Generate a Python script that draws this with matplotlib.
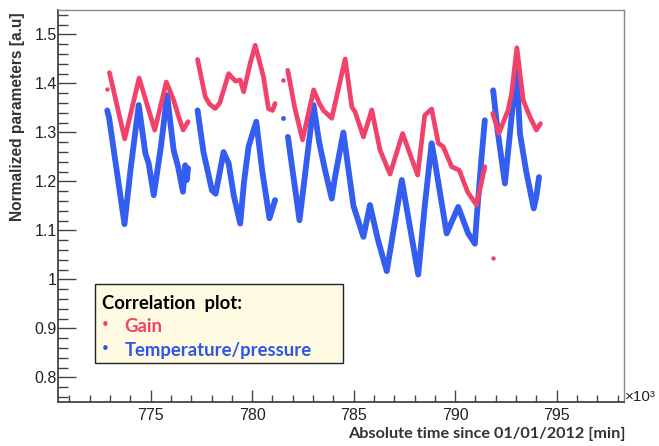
import matplotlib
matplotlib.use("Agg")
import matplotlib.pyplot as plt
from matplotlib.patches import Rectangle
from matplotlib.ticker import MultipleLocator

# time in units of 10^3 min since 01/01/2012
gain_x = [
    [772.97, 773.72, 774.43, 775.20, 775.77, 776.13, 776.38, 776.60, 776.84],
    [777.31, 777.69, 777.90, 778.18, 778.40, 778.84, 779.17, 779.41, 779.58,
     779.90, 780.15, 780.56, 780.80, 781.00, 781.13],
    [781.75, 782.10, 782.48, 783.03, 783.30, 783.51, 783.92, 784.58, 784.91,
     785.07, 785.48, 785.89, 786.30, 786.79, 787.41, 788.15, 788.50, 788.84,
     789.17, 789.41, 789.83, 790.20, 790.62, 791.05, 791.46],
    [791.85, 792.15, 792.61, 792.78, 793.04, 793.35, 793.68, 794.00, 794.20],
]
gain_y = [
    [1.422, 1.287, 1.411, 1.305, 1.403, 1.366, 1.332, 1.305, 1.322],
    [1.449, 1.373, 1.358, 1.349, 1.360, 1.420, 1.405, 1.407, 1.383,
     1.441, 1.478, 1.413, 1.349, 1.345, 1.359],
    [1.427, 1.350, 1.285, 1.387, 1.360, 1.345, 1.329, 1.450, 1.352,
     1.342, 1.291, 1.346, 1.264, 1.215, 1.298, 1.213, 1.335, 1.348,
     1.278, 1.271, 1.230, 1.223, 1.178, 1.152, 1.230],
    [1.339, 1.298, 1.346, 1.380, 1.473, 1.366, 1.332, 1.305, 1.318],
]
gain_dots_x = [772.87, 781.52, 791.84]
gain_dots_y = [1.388, 1.408, 1.043]

tp_x = [
    [772.86, 772.95, 773.30, 773.71, 774.00, 774.41, 774.74, 774.90, 775.15,
     775.50, 775.81, 776.13, 776.35, 776.59, 776.70, 776.78, 776.84],
    [777.31, 777.60, 778.02, 778.20, 778.59, 778.84, 779.10, 779.41, 779.60,
     779.82, 780.20, 780.50, 780.85, 781.13],
    [781.76, 782.33, 783.02, 783.30, 783.59, 783.92, 784.08, 784.49, 784.99,
     785.48, 785.80, 786.20, 786.63, 787.00, 787.37, 787.80, 788.18, 788.50,
     788.84, 788.99, 789.58, 790.15, 790.64, 790.97, 791.05, 791.30, 791.46],
    [791.87, 792.10, 792.45, 792.75, 793.02, 793.19, 793.50, 793.87, 794.00,
     794.13],
]
tp_y = [
    [1.345, 1.330, 1.230, 1.113, 1.222, 1.356, 1.257, 1.237, 1.172,
     1.270, 1.376, 1.264, 1.230, 1.179, 1.233, 1.203, 1.227],
    [1.345, 1.260, 1.182, 1.175, 1.260, 1.237, 1.170, 1.114, 1.200,
     1.271, 1.322, 1.220, 1.125, 1.162],
    [1.291, 1.121, 1.356, 1.280, 1.223, 1.165, 1.209, 1.300, 1.150,
     1.087, 1.152, 1.080, 1.017, 1.110, 1.203, 1.100, 1.010, 1.150,
     1.278, 1.243, 1.094, 1.148, 1.094, 1.073, 1.121, 1.250, 1.325],
    [1.386, 1.300, 1.196, 1.320, 1.434, 1.298, 1.220, 1.145, 1.170, 1.209],
]
tp_dots_x = [781.52]
tp_dots_y = [1.330]

red = '#f0426a'
blue = '#345ef0'

fig = plt.figure(figsize=(6.59, 4.46), dpi=100)
ax = fig.add_axes([0.0885, 0.0987, 0.8579, 0.8789])

for xs, ys in zip(tp_x, tp_y):
    ax.plot(xs, ys, color=blue, lw=4.2, solid_capstyle='round', solid_joinstyle='round')
ax.plot(tp_dots_x, tp_dots_y, 'o', color=blue, ms=3.5, mec='none')
for xs, ys in zip(gain_x, gain_y):
    ax.plot(xs, ys, color=red, lw=3.4, solid_capstyle='round', solid_joinstyle='round')
ax.plot(gain_dots_x, gain_dots_y, 'o', color=red, ms=3.2, mec='none')

ax.set_xlim(770.45, 798.3)
ax.set_ylim(0.75, 1.55)
ax.xaxis.set_major_locator(MultipleLocator(5))
ax.xaxis.set_minor_locator(MultipleLocator(1))
ax.yaxis.set_major_locator(MultipleLocator(0.1))
ax.yaxis.set_minor_locator(MultipleLocator(0.02))
ax.xaxis.set_major_formatter(matplotlib.ticker.FuncFormatter(lambda v, p: '%d' % round(v)))
ax.yaxis.set_major_formatter(matplotlib.ticker.FuncFormatter(lambda v, p: '%g' % round(v, 2)))

ax.tick_params(axis='both', which='both', direction='in', color='#444', width=1.0,
               labelsize=11.5, labelcolor='#222', top=False, right=False)
ax.tick_params(axis='x', which='major', length=8.6, pad=4)
ax.tick_params(axis='x', which='minor', length=4.8)
ax.tick_params(axis='y', which='major', length=12.7, pad=1)
ax.tick_params(axis='y', which='minor', length=7.2)
for lab in ax.get_xticklabels() + ax.get_yticklabels():
    lab.set_family('Liberation Sans')

for s in ['left', 'bottom']:
    ax.spines[s].set_color('#444')
    ax.spines[s].set_linewidth(1.3)
for s in ['top', 'right']:
    ax.spines[s].set_color('#888')
    ax.spines[s].set_linewidth(1.0)

W, H = 659.0, 446.0
def fx(px):
    return px / W
def fy(py):
    return 1 - py / H

fig.text(fx(625), fy(397), '\u00d710\u00b3', family='Liberation Sans', fontsize=11,
         color='#222', ha='left', va='center')
fig.text(fx(18), fy(12), 'Normalized parameters [a.u]', family='Liberation Sans',
         fontweight='bold', fontsize=11.2, color='#333', rotation=90, ha='center', va='top')
fig.text(fx(626), fy(434), 'Absolute time since 01/01/2012 [min]', family='Lato',
         fontweight='bold', fontsize=11.7, color='#333', ha='right', va='center')

# legend box
fig.patches.append(Rectangle((fx(95), fy(363.3)), (342.7 - 95) / W, (363.3 - 284.3) / H,
                             transform=fig.transFigure, facecolor='#fffbe3',
                             edgecolor='#222', lw=1.0, zorder=5))
fig.text(fx(101.7), fy(309), 'Correlation  plot:', family='Lato', fontweight='bold',
         fontsize=13.3, color='black', ha='left', va='baseline', zorder=6)
fig.text(fx(105), fy(325.7), '\u2022', family='DejaVu Sans', fontsize=11, color=red,
         ha='center', va='center', zorder=6)
fig.text(fx(124.3), fy(332.3), 'Gain', family='Lato', fontweight='bold',
         fontsize=13.3, color=red, ha='left', va='baseline', zorder=6)
fig.text(fx(105), fy(349), '\u2022', family='DejaVu Sans', fontsize=11, color='#2f55e8',
         ha='center', va='center', zorder=6)
fig.text(fx(124.3), fy(355.7), 'Temperature/pressure', family='Lato', fontweight='bold',
         fontsize=13.3, color='#2f55e8', ha='left', va='baseline', zorder=6)

fig.savefig('out.png', dpi=100)
